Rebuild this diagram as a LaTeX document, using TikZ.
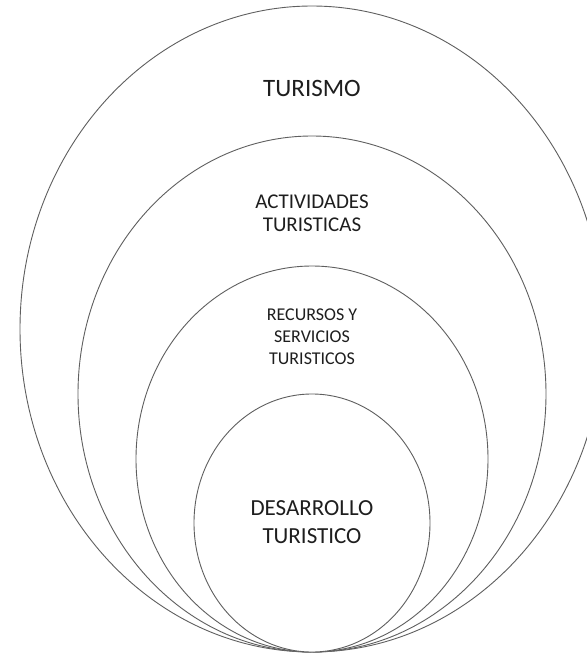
\documentclass[tikz,border=0pt]{standalone}
\usepackage{fontspec}
\setmainfont{Carlito}
\usetikzlibrary{shapes.geometric}
\definecolor{rim}{RGB}{95,95,95}
\definecolor{ink}{RGB}{30,30,30}
\tikzset{
  ring/.style={ellipse,draw=rim,line width=0.9pt,fill=white,inner sep=0pt,outer sep=0pt},
  tag/.style={text=ink,align=center,inner sep=0pt}
}
\begin{document}
\begin{tikzpicture}[x=1pt,y=-1pt]
    \useasboundingbox (0,0) rectangle (587,657);
    \begin{scope}
      \clip (0,0) rectangle (587,657);
      % nested rings, all touching at the bottom
      \foreach \n/\cy/\rx/\ry in {tur/329/292/323,act/394/234/258,rec/459/176/193,des/523/118/129}
        \node[ring,minimum width=2*\rx pt,minimum height=2*\ry pt] (\n) at (312,\cy) {};
    \end{scope}
    \node[tag,font=\fontsize{25}{30}\selectfont] (turl) at (312,88) {TURISMO};
    \node[tag,font=\fontsize{21}{23}\selectfont] (actl) at (312,213) {ACTIVIDADES\\TURISTICAS};
    \node[tag,font=\fontsize{18}{22}\selectfont] (recl) at (312,337) {RECURSOS Y\\SERVICIOS\\TURISTICOS};
    \node[tag,font=\fontsize{23}{28}\selectfont] (desl) at (312,522) {DESARROLLO\\TURISTICO};
  \end{tikzpicture}
\end{document}
